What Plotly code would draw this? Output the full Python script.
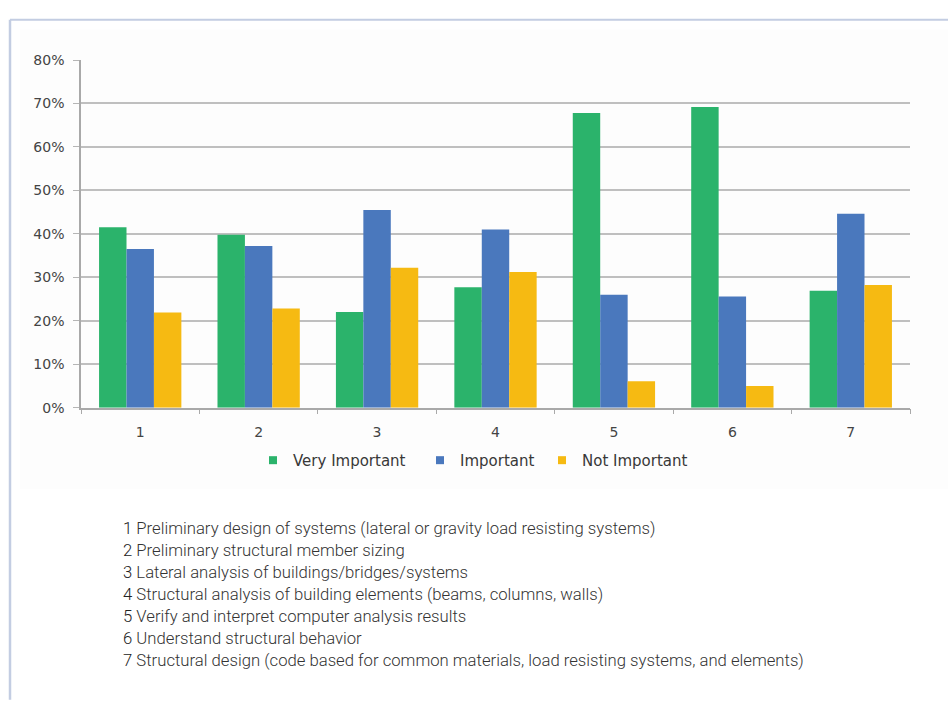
import plotly.graph_objects as go

categories = ["1", "2", "3", "4", "5", "6", "7"]
very_important = [0.415, 0.398, 0.220, 0.277, 0.678, 0.692, 0.269]
important = [0.365, 0.372, 0.455, 0.410, 0.260, 0.256, 0.446]
not_important = [0.219, 0.228, 0.322, 0.312, 0.061, 0.050, 0.282]

series_names = ["Very Important", "Important", "Not Important"]
series_colors = ["#2bb36b", "#4a78bd", "#f6ba12"]

descriptions = [
    "Preliminary design of systems (lateral or gravity load resisting systems)",
    "Preliminary structural member sizing",
    "Lateral analysis of buildings/bridges/systems",
    "Structural analysis of building elements (beams, columns, walls)",
    "Verify and interpret computer analysis results",
    "Understand structural behavior",
    "Structural design (code based for common materials, load resisting systems, and elements)",
]

W, H = 948, 701
CHART_FONT = "DejaVu Sans, sans-serif"
NOTE_FONT = "Roboto, Liberation Sans, sans-serif"

fig = go.Figure()
for name, vals, col in zip(series_names, [very_important, important, not_important], series_colors):
    fig.add_trace(go.Bar(x=categories, y=vals, name=name, showlegend=False,
                         marker=dict(color=col, line=dict(width=0))))

# small square legend keys, one legend box per series
legend_ids = ["legend", "legend2", "legend3"]
legend_left_px = [253, 420, 542]
for name, col, lid in zip(series_names, series_colors, legend_ids):
    fig.add_trace(go.Scatter(x=[None], y=[None], mode="markers", name=name, legend=lid,
                             marker=dict(symbol="square", size=8, color=col)))

legend_style = dict(
    orientation="h", xanchor="left", y=1 - 463 / H, yanchor="middle",
    font=dict(family=CHART_FONT, size=15, color="#383838"),
    itemwidth=30, bgcolor="rgba(0,0,0,0)",
)

# plot area in pixels
px_left, px_right, px_top, px_bottom = 81, 910, 53, 409

fig.update_layout(
    width=W, height=H,
    margin=dict(l=0, r=0, t=0, b=0),
    paper_bgcolor="white",
    plot_bgcolor="rgba(0,0,0,0)",
    barmode="group",
    bargap=0.305,
    bargroupgap=0,
    font=dict(family=CHART_FONT, size=14, color="#4a4a4a"),
    showlegend=True,
    legend=dict(x=legend_left_px[0] / W, **legend_style),
    legend2=dict(x=legend_left_px[1] / W, **legend_style),
    legend3=dict(x=legend_left_px[2] / W, **legend_style),
    xaxis=dict(
        domain=[px_left / W, px_right / W],
        type="category",
        showline=True, linecolor="#a9a9a9", linewidth=1.5,
        ticks="outside", tickson="boundaries", ticklen=5, tickcolor="#a9a9a9",
        showgrid=False,
        tickfont=dict(family=CHART_FONT, size=14, color="#444"),
        ticklabelstandoff=11,
    ),
    yaxis=dict(
        domain=[1 - px_bottom / H, 1 - px_top / H],
        range=[0, 0.8005], dtick=0.1, tickformat=".0%",
        showline=True, linecolor="#a9a9a9", linewidth=1.5,
        ticks="outside", ticklen=6, tickcolor="#b5b5b5",
        showgrid=True, gridcolor="#bfbfbf", gridwidth=1.8,
        zeroline=False,
        tickfont=dict(family=CHART_FONT, size=14, color="#444"),
        ticklabelstandoff=6,
    ),
)

# light panel behind the chart and the frame lines
fig.add_shape(type="rect", xref="paper", yref="paper",
              x0=20 / W, x1=1, y0=1 - 492 / H, y1=1 - 22 / H,
              fillcolor="#fdfdfd", line=dict(width=0), layer="below")
fig.add_shape(type="line", xref="paper", yref="paper",
              x0=10 / W, x1=1, y0=1 - 12 / H, y1=1 - 12 / H,
              line=dict(color="#c3cde2", width=2))
fig.add_shape(type="line", xref="paper", yref="paper",
              x0=10 / W, x1=10 / W, y0=-0.01, y1=1 - 12 / H,
              line=dict(color="#c3cde2", width=2.5))

# numbered descriptions below the chart
for i, (cat, text) in enumerate(zip(categories, descriptions)):
    yc = 533 + i * 22.5
    fig.add_annotation(
        xref="paper", yref="paper", x=121 / W, y=1 - yc / H,
        xanchor="left", yanchor="middle", showarrow=False, align="left",
        text=f"<span style='color:#222'>{cat}</span> {text}",
        font=dict(family=NOTE_FONT, size=16.7, color="#333", weight=300),
    )

fig.write_html("out.html")
